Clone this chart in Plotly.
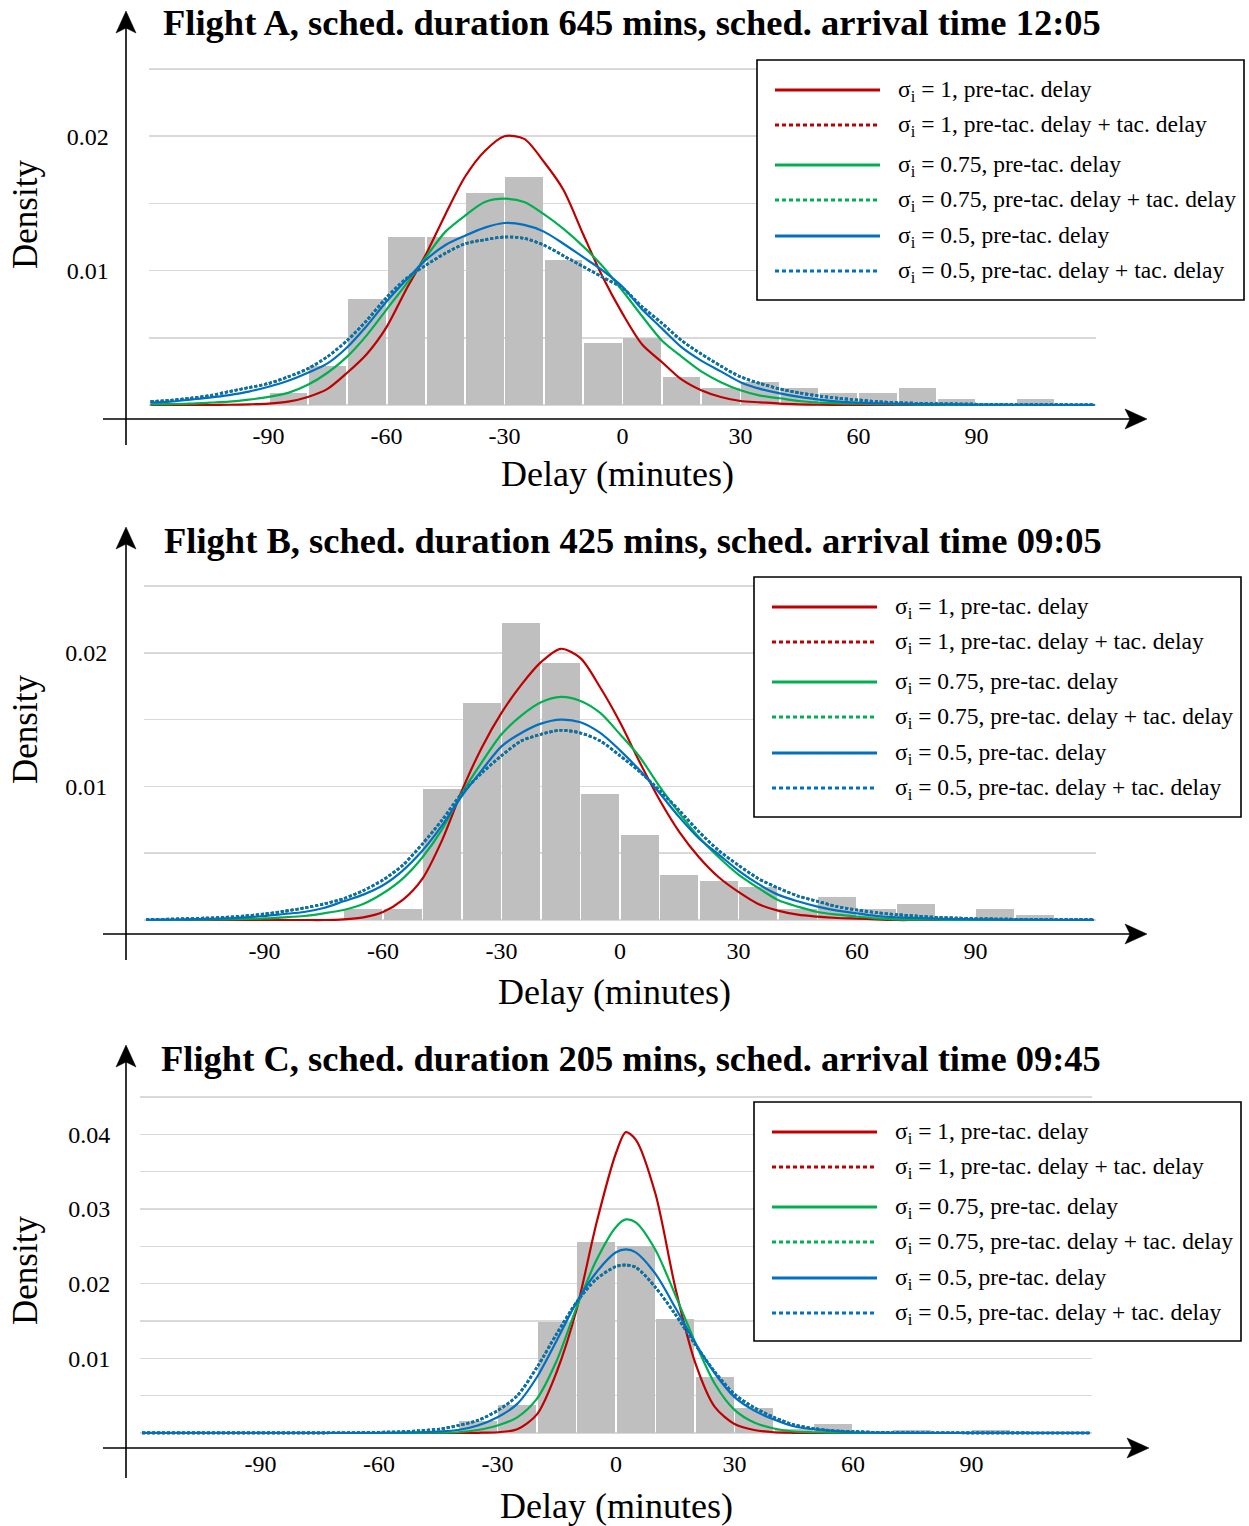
import plotly.graph_objects as go

W, H = 1249, 1526
FONT = "Liberation Serif"

# ---------------- data ----------------
TITLES = [
    "Flight A, sched. duration 645 mins, sched. arrival time 12:05",
    "Flight B, sched. duration 425 mins, sched. arrival time 09:05",
    "Flight C, sched. duration 205 mins, sched. arrival time 09:45",
]
SERIES_NAMES = [
    "σ<sub>i</sub> = 1, pre-tac. delay",
    "σ<sub>i</sub> = 1, pre-tac. delay + tac. delay",
    "σ<sub>i</sub> = 0.75, pre-tac. delay",
    "σ<sub>i</sub> = 0.75, pre-tac. delay + tac. delay",
    "σ<sub>i</sub> = 0.5, pre-tac. delay",
    "σ<sub>i</sub> = 0.5, pre-tac. delay + tac. delay",
]
X_TICKS = [-90, -60, -30, 0, 30, 60, 90]
X_TICK_LABELS = ["-90", "-60", "-30", "0", "30", "60", "90"]
Y_TICKS_AB = [0.01, 0.02]
Y_LABELS_AB = ["0.01", "0.02"]
Y_TICKS_C = [0.01, 0.02, 0.03, 0.04]
Y_LABELS_C = ["0.01", "0.02", "0.03", "0.04"]
Y_GRID_STEP = 0.005

# delay grid (minutes) for the density curves
X_AB = [-120, -115, -110, -105, -100, -95, -90, -85, -80, -75, -70, -65, -60, -55, -50, -45,
        -40, -35, -30, -25, -20, -15, -10, -5, 0, 5, 10, 15, 20, 25, 30, 35, 40, 45, 50, 55,
        60, 65, 70, 75, 80, 85, 90, 95, 100, 105, 110, 115, 120]
X_C = [-120, -115, -110, -105, -100, -95, -90, -85, -80, -75, -70, -65, -60, -55, -50, -45,
       -40, -35, -30, -25, -20, -15, -10, -5, 0, 2.5, 5, 10, 15, 20, 25, 30, 35, 40, 45, 50, 55,
       60, 65, 70, 75, 80, 85, 90, 95, 100, 105, 110, 115, 120]

# ---- Flight A ----
BIN_A = [-85, -75, -65, -55, -45, -35, -25, -15, -5, 5, 15, 25, 35, 45, 55, 65, 75, 85, 95, 105]
HIST_A = [0.00087, 0.00292, 0.00787, 0.01248, 0.01248, 0.01577, 0.0170, 0.01077, 0.00458, 0.00502,
          0.0021, 0.00129, 0.00168, 0.00126, 0.00087, 0.00087, 0.00127, 0.00041, 0.0, 0.00041]
RED_A = [0, 0, 0, 0, 0.00002, 0.00005, 0.0001, 0.00025, 0.0006, 0.0012,
         0.0024, 0.0038, 0.0058, 0.0086, 0.0112, 0.0142, 0.0170, 0.0189, 0.0200, 0.0198,
         0.0181, 0.0160, 0.0127, 0.0095, 0.0068, 0.0045, 0.0032, 0.0019, 0.0011, 0.0006,
         0.0003, 0.0002, 0.0001, 0.00005, 0.00002, 0, 0, 0, 0, 0,
         0, 0, 0, 0, 0, 0, 0, 0, 0]
RED_DOT_A = [0.00025, 0.00035, 0.0005, 0.0007, 0.0010, 0.0013, 0.0016, 0.0021, 0.0027, 0.0036,
             0.0048, 0.0063, 0.0080, 0.0094, 0.0104, 0.0113, 0.0120, 0.0123, 0.0125, 0.0124,
             0.0119, 0.0111, 0.0103, 0.0095, 0.0087, 0.0073, 0.0061, 0.0048, 0.0038, 0.0029,
             0.0021, 0.0016, 0.0012, 0.0009, 0.00067, 0.0005, 0.00037, 0.00025, 0.00017, 0.00013,
             0.0001, 0.00008, 0.00006, 0.00005, 0.00004, 0.00003, 0.00003, 0.00002, 0.00002]
GREEN_A = [0.00005, 0.00007, 0.0001, 0.00017, 0.00025, 0.0004, 0.0006, 0.0009, 0.0015, 0.0024,
           0.0036, 0.0052, 0.0071, 0.0090, 0.0110, 0.0129, 0.0141, 0.0151, 0.01535, 0.0151,
           0.0142, 0.0131, 0.0118, 0.0103, 0.0085, 0.0066, 0.0048, 0.0036, 0.0025, 0.0017,
           0.0011, 0.0007, 0.0005, 0.0003, 0.00017, 0.00012, 0.0001, 0.00007, 0.00005, 0.00003,
           0.00002, 0.00001, 0, 0, 0, 0, 0, 0, 0]
GREEN_DOT_A = [0.00025, 0.00035, 0.0005, 0.0007, 0.0010, 0.0013, 0.0016, 0.0021, 0.0027, 0.0036,
               0.0048, 0.0063, 0.0080, 0.0094, 0.0104, 0.0113, 0.0120, 0.0123, 0.0125, 0.0124,
               0.0119, 0.0111, 0.0103, 0.0095, 0.0087, 0.0073, 0.0061, 0.0048, 0.0038, 0.0029,
               0.0021, 0.0016, 0.0012, 0.0009, 0.00067, 0.0005, 0.00037, 0.00025, 0.00017, 0.00013,
               0.0001, 0.00008, 0.00006, 0.00005, 0.00004, 0.00003, 0.00003, 0.00002, 0.00002]
BLUE_A = [0.00017, 0.00025, 0.0004, 0.00055, 0.00074, 0.0010, 0.00136, 0.0018, 0.0024, 0.0031,
          0.0043, 0.0059, 0.0077, 0.0093, 0.0108, 0.0119, 0.0126, 0.0132, 0.01354, 0.0134,
          0.0129, 0.0120, 0.0110, 0.0100, 0.0088, 0.0071, 0.0057, 0.0043, 0.0033, 0.0025,
          0.0017, 0.0012, 0.00087, 0.0006, 0.0004, 0.00025, 0.00017, 0.00012, 0.0001, 0.00007,
          0.00005, 0.00004, 0.00003, 0.00003, 0.00002, 0.00002, 0.00001, 0.00001, 0.00001]
BLUE_DOT_A = [0.00025, 0.00035, 0.0005, 0.0007, 0.0010, 0.0013, 0.0016, 0.0021, 0.0027, 0.0036,
              0.0048, 0.0063, 0.0080, 0.0094, 0.0104, 0.0113, 0.0120, 0.0123, 0.0125, 0.0124,
              0.0119, 0.0111, 0.0103, 0.0095, 0.0087, 0.0073, 0.0061, 0.0048, 0.0038, 0.0029,
              0.0021, 0.0016, 0.0012, 0.0009, 0.00067, 0.0005, 0.00037, 0.00025, 0.00017, 0.00013,
              0.0001, 0.00008, 0.00006, 0.00005, 0.00004, 0.00003, 0.00003, 0.00002, 0.00002]

# ---- Flight B ----
BIN_B = [-65, -55, -45, -35, -25, -15, -5, 5, 15, 25, 35, 45, 55, 65, 75, 85, 95, 105]
HIST_B = [0.0008, 0.0008, 0.00978, 0.01622, 0.0222, 0.0192, 0.0094, 0.0064, 0.0034, 0.0029,
          0.0025, 0.0008, 0.0017, 0.0008, 0.0012, 0.0, 0.0008, 0.0004]
RED_B = [0, 0, 0, 0, 0, 0, 0, 0, 0, 0,
         0.00005, 0.0002, 0.0006, 0.0015, 0.0031, 0.0060, 0.0097, 0.0129, 0.0155, 0.0176,
         0.0193, 0.0203, 0.0196, 0.0174, 0.0148, 0.0118, 0.0090, 0.0066, 0.0047, 0.0032,
         0.0021, 0.0012, 0.0007, 0.0004, 0.00025, 0.00015, 0.0001, 0.00005, 0, 0,
         0, 0, 0, 0, 0, 0, 0, 0, 0]
RED_DOT_B = [0.00004, 0.00006, 0.0001, 0.00014, 0.0002, 0.0003, 0.00045, 0.00065, 0.0009, 0.0012,
             0.0016, 0.0022, 0.0030, 0.0041, 0.0057, 0.0075, 0.0095, 0.0110, 0.0123, 0.0134,
             0.0139, 0.0142, 0.0140, 0.0134, 0.0123, 0.0111, 0.0097, 0.0082, 0.0066, 0.0052,
             0.0041, 0.0031, 0.0024, 0.0018, 0.0014, 0.0010, 0.00075, 0.00055, 0.0004, 0.0003,
             0.0002, 0.00015, 0.0001, 0.00008, 0.00006, 0.00005, 0.00004, 0.00003, 0.00003]
GREEN_B = [0, 0.00001, 0.00002, 0.00003, 0.00005, 0.00008, 0.00012, 0.0002, 0.0003, 0.0005,
           0.00075, 0.0012, 0.0020, 0.0031, 0.0047, 0.0068, 0.0095, 0.0118, 0.0139, 0.0153,
           0.0163, 0.0167, 0.0164, 0.0155, 0.0139, 0.0122, 0.0100, 0.0080, 0.0062, 0.0047,
           0.0034, 0.0024, 0.0015, 0.0010, 0.0006, 0.0004, 0.00025, 0.00012, 0.00005, 0.00003,
           0.00002, 0.00001, 0, 0, 0, 0, 0, 0, 0]
GREEN_DOT_B = [0.00004, 0.00006, 0.0001, 0.00014, 0.0002, 0.0003, 0.00045, 0.00065, 0.0009, 0.0012,
               0.0016, 0.0022, 0.0030, 0.0041, 0.0057, 0.0075, 0.0095, 0.0110, 0.0123, 0.0134,
               0.0139, 0.0142, 0.0140, 0.0134, 0.0123, 0.0111, 0.0097, 0.0082, 0.0066, 0.0052,
               0.0041, 0.0031, 0.0024, 0.0018, 0.0014, 0.0010, 0.00075, 0.00055, 0.0004, 0.0003,
               0.0002, 0.00015, 0.0001, 0.00008, 0.00006, 0.00005, 0.00004, 0.00003, 0.00003]
BLUE_B = [0.00002, 0.00003, 0.00005, 0.00008, 0.00012, 0.0002, 0.0003, 0.00045, 0.0006, 0.0009,
          0.0014, 0.0019, 0.0026, 0.0037, 0.0052, 0.0071, 0.0093, 0.0112, 0.0130, 0.0140,
          0.0147, 0.0150, 0.0148, 0.0140, 0.0127, 0.0112, 0.0095, 0.0077, 0.0061, 0.0049,
          0.0037, 0.0027, 0.0019, 0.0014, 0.0010, 0.0007, 0.0005, 0.0003, 0.0002, 0.00015,
          0.0001, 0.00007, 0.00005, 0.00004, 0.00003, 0.00002, 0.00002, 0.00001, 0.00001]
BLUE_DOT_B = [0.00004, 0.00006, 0.0001, 0.00014, 0.0002, 0.0003, 0.00045, 0.00065, 0.0009, 0.0012,
              0.0016, 0.0022, 0.0030, 0.0041, 0.0057, 0.0075, 0.0095, 0.0110, 0.0123, 0.0134,
              0.0139, 0.0142, 0.0140, 0.0134, 0.0123, 0.0111, 0.0097, 0.0082, 0.0066, 0.0052,
              0.0041, 0.0031, 0.0024, 0.0018, 0.0014, 0.0010, 0.00075, 0.00055, 0.0004, 0.0003,
              0.0002, 0.00015, 0.0001, 0.00008, 0.00006, 0.00005, 0.00004, 0.00003, 0.00003]

# ---- Flight C ----
BIN_C = [-35, -25, -15, -5, 5, 15, 25, 35, 45, 55, 65, 75, 85, 95]
HIST_C = [0.0016, 0.0037, 0.0149, 0.0256, 0.0251, 0.0153, 0.0075, 0.0033, 0.0006, 0.0012,
          0.0, 0.0004, 0.0, 0.0004]
RED_C = [0, 0, 0, 0, 0, 0, 0, 0, 0, 0,
         0, 0, 0, 0, 0, 0, 0, 0.00003, 0.0001, 0.0005,
         0.0025, 0.0082, 0.0165, 0.0280, 0.0375, 0.0403, 0.0393, 0.0320, 0.0195, 0.0095,
         0.0035, 0.0012, 0.0004, 0.0001, 0.00003, 0, 0, 0, 0, 0,
         0, 0, 0, 0, 0, 0, 0, 0, 0, 0]
RED_DOT_C = [0.00002, 0.00002, 0.00002, 0.00002, 0.00002, 0.00002, 0.00002, 0.00002, 0.00002, 0.00002,
             0.00003, 0.00005, 0.0001, 0.00015, 0.0003, 0.0005, 0.0010, 0.0017, 0.0030, 0.0050,
             0.0088, 0.0133, 0.0175, 0.0206, 0.0223, 0.0225, 0.0222, 0.0195, 0.0159, 0.0119,
             0.0082, 0.0052, 0.0034, 0.0021, 0.0011, 0.0006, 0.0003, 0.0002, 0.0001, 0.00007,
             0.00005, 0.00003, 0.00003, 0.00002, 0.00002, 0.00002, 0.00001, 0.00001, 0.00001, 0.00001]
GREEN_C = [0, 0, 0, 0, 0, 0, 0, 0, 0, 0,
           0, 0, 0, 0, 0.00002, 0.00005, 0.0001, 0.0004, 0.0010, 0.0021,
           0.0046, 0.0097, 0.0168, 0.0231, 0.0276, 0.0286, 0.0282, 0.0245, 0.0185, 0.0122,
           0.0066, 0.0031, 0.0014, 0.0006, 0.0002, 0.0001, 0.00005, 0.00002, 0, 0,
           0, 0, 0, 0, 0, 0, 0, 0, 0, 0]
GREEN_DOT_C = [0.00002, 0.00002, 0.00002, 0.00002, 0.00002, 0.00002, 0.00002, 0.00002, 0.00002, 0.00002,
               0.00003, 0.00005, 0.0001, 0.00015, 0.0003, 0.0005, 0.0010, 0.0017, 0.0030, 0.0050,
               0.0088, 0.0133, 0.0175, 0.0206, 0.0223, 0.0225, 0.0222, 0.0195, 0.0159, 0.0119,
               0.0082, 0.0052, 0.0034, 0.0021, 0.0011, 0.0006, 0.0003, 0.0002, 0.0001, 0.00007,
               0.00005, 0.00003, 0.00003, 0.00002, 0.00002, 0.00002, 0.00001, 0.00001, 0.00001, 0.00001]
BLUE_C = [0.00001, 0.00001, 0.00001, 0.00001, 0.00001, 0.00001, 0.00001, 0.00001, 0.00001, 0.00001,
          0.00001, 0.00002, 0.00003, 0.00005, 0.0001, 0.0002, 0.0004, 0.0010, 0.0021, 0.0039,
          0.0075, 0.0124, 0.0175, 0.0215, 0.0242, 0.0246, 0.0242, 0.0213, 0.0168, 0.0121,
          0.0080, 0.0048, 0.0030, 0.0018, 0.0009, 0.0005, 0.0003, 0.0001, 0.00005, 0.00003,
          0.00002, 0.00001, 0.00001, 0.00001, 0.00001, 0.00001, 0.00001, 0.00001, 0.00001, 0.00001]
BLUE_DOT_C = [0.00002, 0.00002, 0.00002, 0.00002, 0.00002, 0.00002, 0.00002, 0.00002, 0.00002, 0.00002,
              0.00003, 0.00005, 0.0001, 0.00015, 0.0003, 0.0005, 0.0010, 0.0017, 0.0030, 0.0050,
              0.0088, 0.0133, 0.0175, 0.0206, 0.0223, 0.0225, 0.0222, 0.0195, 0.0159, 0.0119,
              0.0082, 0.0052, 0.0034, 0.0021, 0.0011, 0.0006, 0.0003, 0.0002, 0.0001, 0.00007,
              0.00005, 0.00003, 0.00003, 0.00002, 0.00002, 0.00002, 0.00001, 0.00001, 0.00001, 0.00001]

# ---------------- styles / layout ----------------
COLORS = ["#c00000", "#c00000", "#00b050", "#00b050", "#0070c0", "#0070c0"]
DOTTED = [False, True, False, True, False, True]
BAR_COLOR = "#bfbfbf"
GRID_COLOR = "#d9d9d9"

PANELS = [
    dict(x=X_AB, bins=BIN_A, hist=HIST_A,
         curves=[RED_A, RED_DOT_A, GREEN_A, GREEN_DOT_A, BLUE_A, BLUE_DOT_A],
         ticks=Y_TICKS_AB, tlab=Y_LABELS_AB, ymax=0.025, ylen=34,
         x0=622.5, xs=3.933, base=405, top=69,
         title_xy=(161, 22), xt_xy=(617, 474), dens_xy=(25, 215),
         yax=(126, 445, 11), xax=(419, 103, 1147), leg=(757, 60, 1244, 300)),
    dict(x=X_AB, bins=BIN_B, hist=HIST_B,
         curves=[RED_B, RED_DOT_B, GREEN_B, GREEN_DOT_B, BLUE_B, BLUE_DOT_B],
         ticks=Y_TICKS_AB, tlab=Y_LABELS_AB, ymax=0.025, ylen=31,
         x0=620, xs=3.95, base=920, top=586,
         title_xy=(162, 540), xt_xy=(614, 992), dens_xy=(25, 730),
         yax=(126, 960, 527), xax=(934, 103, 1147), leg=(754, 577, 1241, 817)),
    dict(x=X_C, bins=BIN_C, hist=HIST_C,
         curves=[RED_C, RED_DOT_C, GREEN_C, GREEN_DOT_C, BLUE_C, BLUE_DOT_C],
         ticks=Y_TICKS_C, tlab=Y_LABELS_C, ymax=0.045, ylen=24,
         x0=616, xs=3.95, base=1433, top=1097,
         title_xy=(159, 1058), xt_xy=(616, 1506), dens_xy=(25, 1271),
         yax=(126, 1478, 1045), xax=(1448, 103, 1149), leg=(754, 1102, 1241, 1341)),
]

LEG_ROWS = [30, 65, 105, 140, 176, 211]


def PX(px):
    return px / W


def PY(py):
    return 1 - py / H


fig = go.Figure()
shapes = []
annotations = []
layout_axes = {}

for i, P in enumerate(PANELS):
    n = "" if i == 0 else str(i + 1)
    xa, ya = "x" + n, "y" + n
    fig.add_trace(go.Bar(x=P["bins"], y=P["hist"], width=9.5, marker=dict(color=BAR_COLOR, line=dict(width=0)),
                         xaxis=xa, yaxis=ya, showlegend=False, hoverinfo="skip"))
    for k, ys in enumerate(P["curves"]):
        fig.add_trace(go.Scatter(
            x=P["x"], y=ys, mode="lines", name=SERIES_NAMES[k], xaxis=xa, yaxis=ya, showlegend=False,
            line=dict(color=COLORS[k], width=2.6 if DOTTED[k] else 2.2,
                      dash="3px,2px" if DOTTED[k] else "solid", shape="spline", smoothing=0.8)))

    xr = [-120.5, 120.5]
    xd = [PX(P["x0"] + xr[0] * P["xs"]), PX(P["x0"] + xr[1] * P["xs"])]
    k_px = (P["base"] - P["top"]) / P["ymax"]
    pad = 3 / k_px
    yr = [-pad, P["ymax"] + pad]
    yd = [PY(P["base"] + 3), PY(P["top"] - 3)]
    layout_axes["xaxis" + n] = dict(
        domain=xd, range=xr, anchor=ya, showgrid=False, zeroline=False, showline=False,
        tickvals=X_TICKS, ticktext=X_TICK_LABELS, ticks="outside", ticklen=6,
        tickcolor="rgba(0,0,0,0)", tickfont=dict(family=FONT, size=24, color="#000"), fixedrange=True)
    layout_axes["yaxis" + n] = dict(
        domain=yd, range=yr, anchor=xa, showgrid=True, gridcolor=GRID_COLOR, gridwidth=1.5,
        zeroline=False, showline=False, tickvals=P["ticks"], ticktext=P["tlab"], ticks="outside",
        ticklen=P["ylen"], tickcolor="rgba(0,0,0,0)", tickfont=dict(family=FONT, size=24, color="#000"),
        minor=dict(tick0=0, dtick=Y_GRID_STEP, showgrid=True, gridcolor=GRID_COLOR, gridwidth=1.5,
                   ticks=""),
        fixedrange=True)

    # axis arrows
    ax_x, ax_bot, ax_tip = P["yax"]
    shapes.append(dict(type="line", xref="paper", yref="paper", x0=PX(ax_x), x1=PX(ax_x),
                       y0=PY(ax_bot), y1=PY(ax_tip + 16), line=dict(color="#000", width=1.6)))
    shapes.append(dict(type="path", xref="paper", yref="paper",
                       path=f"M {PX(ax_x)},{PY(ax_tip)} L {PX(ax_x + 10)},{PY(ax_tip + 22)} "
                            f"L {PX(ax_x)},{PY(ax_tip + 17)} L {PX(ax_x - 10)},{PY(ax_tip + 22)} Z",
                       fillcolor="#000", line=dict(color="#000", width=0.5)))
    hy, hl, htip = P["xax"]
    shapes.append(dict(type="line", xref="paper", yref="paper", x0=PX(hl), x1=PX(htip - 16),
                       y0=PY(hy), y1=PY(hy), line=dict(color="#000", width=1.6)))
    shapes.append(dict(type="path", xref="paper", yref="paper",
                       path=f"M {PX(htip)},{PY(hy)} L {PX(htip - 22)},{PY(hy - 10)} "
                            f"L {PX(htip - 17)},{PY(hy)} L {PX(htip - 22)},{PY(hy + 10)} Z",
                       fillcolor="#000", line=dict(color="#000", width=0.5)))

    # legend box
    lx0, ly0, lx1, ly1 = P["leg"]
    shapes.append(dict(type="rect", xref="paper", yref="paper", x0=PX(lx0), x1=PX(lx1),
                       y0=PY(ly0), y1=PY(ly1), fillcolor="#fff", line=dict(color="#000", width=1.6),
                       layer="above"))
    for k, off in enumerate(LEG_ROWS):
        yy = ly0 + off
        shapes.append(dict(type="line", xref="paper", yref="paper", x0=PX(lx0 + 18), x1=PX(lx0 + 123),
                           y0=PY(yy), y1=PY(yy), layer="above",
                           line=dict(color=COLORS[k], width=3, dash="4px,3px" if DOTTED[k] else "solid")))
        annotations.append(dict(xref="paper", yref="paper", x=PX(lx0 + 139), y=PY(yy + 1),
                                xanchor="left", yanchor="middle", showarrow=False, text=SERIES_NAMES[k],
                                font=dict(family=FONT, size=23.5, color="#000")))

    # texts
    tx, ty = P["title_xy"]
    annotations.append(dict(xref="paper", yref="paper", x=PX(tx), y=PY(ty), xanchor="left", yanchor="middle",
                            showarrow=False, text="<b>" + TITLES[i] + "</b>",
                            font=dict(family=FONT, size=36.5, color="#000")))
    xtx, xty = P["xt_xy"]
    annotations.append(dict(xref="paper", yref="paper", x=PX(xtx), y=PY(xty), xanchor="center",
                            yanchor="middle", showarrow=False, text="Delay (minutes)",
                            font=dict(family=FONT, size=36, color="#000")))
    dx, dy = P["dens_xy"]
    annotations.append(dict(xref="paper", yref="paper", x=PX(dx), y=PY(dy), xanchor="center",
                            yanchor="middle", showarrow=False, text="Density", textangle=-90,
                            font=dict(family=FONT, size=35, color="#000")))

fig.update_layout(
    width=W, height=H, margin=dict(l=0, r=0, t=0, b=0, pad=0),
    paper_bgcolor="#fff", plot_bgcolor="#fff", showlegend=False, bargap=0,
    shapes=shapes, annotations=annotations, **layout_axes)

fig.write_html("out.html", config={"displayModeBar": False, "staticPlot": True},
               post_script="document.body.style.margin='0';document.body.style.overflow='hidden';")
